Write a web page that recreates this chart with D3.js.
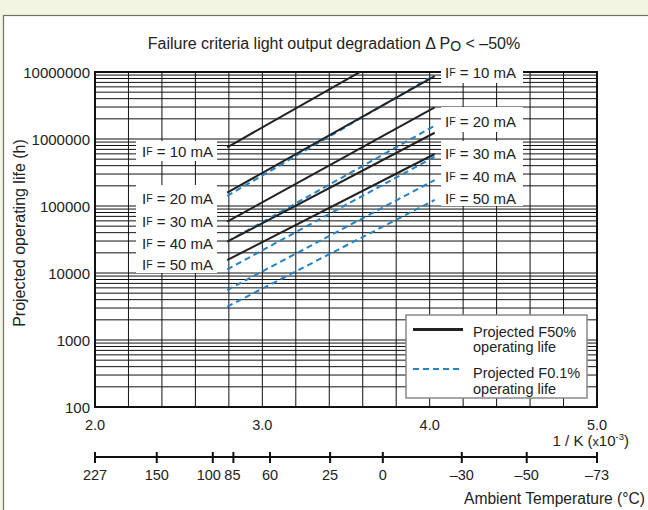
<!DOCTYPE html>
<html><head><meta charset="utf-8">
<script src="https://cdn.jsdelivr.net/npm/d3@7"></script>
<style>
body{margin:0;background:#f1f5e1;}
svg{display:block;font-family:"Liberation Sans",Arial,Helvetica,sans-serif;}
</style>
</head><body><svg id="c" width="648" height="510"></svg>
<script>
// ---- data ----
const currents = ["10", "20", "30", "40", "50"];
const lineX = [2.79, 4.03];                       // 1/K (x10^-3) span of each line
const f50Start = [7.5e5, 1.58e5, 5.83e4, 2.93e4, 1.56e4];
const f50End   = [4.3e7, 8.7e6, 2.97e6, 1.24e6, 5.97e5];
const f01Start = [1.41e5, 2.93e4, 1.13e4, 5.57e3, 3.14e3];
const f01End   = [9.0e6, 1.58e6, 5.45e5, 2.44e5, 1.23e5];
const xTickVals = [2.0, 3.0, 4.0, 5.0];
const yTickVals = [100, 1000, 10000, 100000, 1000000, 10000000];
const tempLabels = ["227", "150", "100", "85", "60", "25", "0", "–30", "–50", "–73"];
const tempPos    = [2.0, 2.369, 2.704, 2.827, 3.046, 3.405, 3.720, 4.192, 4.580, 5.0];
const legendLabels = [["Projected F50%", "operating life"], ["Projected F0.1%", "operating life"]];

// ---- drawing ----
const svg = d3.select("#c");
const W = 648, H = 510;
const L = 95, R = 597, T = 72, B = 407;
const x = d3.scaleLinear().domain([2, 5]).range([L, R]);
const y = d3.scaleLog().domain([100, 1e7]).range([B, T]);
const blue = "#2382c8";
const ink = "#222";

// panel
svg.append("rect").attr("x", 3.5).attr("y", 15.5).attr("width", W).attr("height", H)
  .attr("fill", "#fff").attr("stroke", "#707068").attr("stroke-width", 1.2);

// grid
const g = svg.append("g");
const vgrid = d3.range(1, 15).map(i => 2 + i * 0.2);
g.selectAll("line.v").data(vgrid).join("line")
  .attr("x1", d => x(d)).attr("x2", d => x(d)).attr("y1", T).attr("y2", B)
  .attr("stroke", "#111").attr("stroke-width", 1);
const hgrid = [];
[100, 1000, 10000, 100000, 1000000].forEach(dec => {
  for (let k = 1; k <= 9; k++) hgrid.push(dec * k);
});
g.selectAll("line.h").data(hgrid.filter(v => v > 100)).join("line")
  .attr("x1", L).attr("x2", R).attr("y1", d => y(d)).attr("y2", d => y(d))
  .attr("stroke", "#111").attr("stroke-width", 1);

// frame
svg.append("rect").attr("x", L).attr("y", T).attr("width", R - L).attr("height", B - T)
  .attr("fill", "none").attr("stroke", "#111").attr("stroke-width", 2);

// label backing boxes
const boxes = [[136, 141, 81, 20], [136, 185, 81, 88], [441, 62, 82, 21], [441, 107, 82, 25], [441, 141, 82, 65]];
svg.selectAll("rect.box").data(boxes).join("rect")
  .attr("x", d => d[0]).attr("y", d => d[1]).attr("width", d => d[2]).attr("height", d => d[3])
  .attr("fill", "#fff");

// clip
svg.append("clipPath").attr("id", "clip").append("rect")
  .attr("x", L).attr("y", T).attr("width", R - L).attr("height", B - T);

const line = d3.line().x(d => x(d[0])).y(d => y(d[1]));
const lg = svg.append("g").attr("clip-path", "url(#clip)");
currents.forEach((c, i) => {
  lg.append("path").datum([[lineX[0], f01Start[i]], [lineX[1], f01End[i]]])
    .attr("d", line).attr("fill", "none").attr("stroke", blue).attr("stroke-width", 2)
    .attr("stroke-dasharray", "6,4");
});
currents.forEach((c, i) => {
  lg.append("path").datum([[lineX[0], f50Start[i]], [lineX[1], f50End[i]]])
    .attr("d", line).attr("fill", "none").attr("stroke", ink).attr("stroke-width", 2);
});

// IF labels
function ifLabel(xp, yp, c) {
  const t = svg.append("text").attr("x", xp).attr("y", yp).attr("font-size", 15)
    .attr("fill", ink).attr("dominant-baseline", "central");
  t.append("tspan").text("I");
  t.append("tspan").attr("font-size", 10.5).text("F");
  t.append("tspan").text(" = " + c + " mA");
}
const leftY = [151, 197.5, 220.5, 242.5, 264];
const rightY = [71.5, 121, 152.5, 176, 197.5];
currents.forEach((c, i) => { ifLabel(142, leftY[i], c); ifLabel(445, rightY[i], c); });

// y axis labels
svg.selectAll("text.yt").data(yTickVals).join("text")
  .attr("x", 90).attr("y", d => y(d)).attr("text-anchor", "end").attr("dominant-baseline", "central")
  .attr("font-size", 15).attr("fill", ink).text(d => d);

svg.append("text").attr("transform", "translate(19,233) rotate(-90)")
  .attr("text-anchor", "middle").attr("dominant-baseline", "central")
  .attr("font-size", 16).attr("fill", ink).text("Projected operating life (h)");

// x axis labels
svg.selectAll("text.xt").data(xTickVals).join("text")
  .attr("x", d => x(d)).attr("y", 425).attr("text-anchor", "middle").attr("dominant-baseline", "central")
  .attr("font-size", 14.5).attr("fill", ink).text(d => d.toFixed(1));
const kt = svg.append("text").attr("x", 629).attr("y", 446).attr("text-anchor", "end")
  .attr("font-size", 15).attr("fill", ink);
kt.append("tspan").text("1 / K (");
kt.append("tspan").attr("font-size", 12.5).text("x");
kt.append("tspan").text("10");
kt.append("tspan").attr("font-size", 9.5).attr("dy", -6).text("-3");
kt.append("tspan").attr("dy", 6).text(")");

// temperature axis
const ta = svg.append("g");
ta.append("line").attr("x1", x(2)).attr("x2", x(5)).attr("y1", 457).attr("y2", 457)
  .attr("stroke", "#111").attr("stroke-width", 2);
ta.selectAll("line.t").data(tempPos).join("line")
  .attr("x1", d => x(d)).attr("x2", d => x(d)).attr("y1", 452).attr("y2", 463)
  .attr("stroke", "#111").attr("stroke-width", 2);
ta.selectAll("text").data(tempLabels).join("text")
  .attr("x", (d, i) => x(tempPos[i])).attr("dx", d => d === "100" ? -4 : (d === "85" ? -1 : 0))
  .attr("y", 475).attr("text-anchor", "middle")
  .attr("dominant-baseline", "central").attr("font-size", 14.5).attr("fill", ink).text(d => d);
svg.append("text").attr("x", 645).attr("y", 504).attr("text-anchor", "end")
  .attr("font-size", 15.6).attr("fill", ink).text("Ambient Temperature (°C)");

// title
const tt = svg.append("text").attr("x", 334).attr("y", 48.5).attr("text-anchor", "middle")
  .attr("font-size", 16).attr("fill", ink);
tt.append("tspan").text("Failure criteria light output degradation Δ P");
tt.append("tspan").attr("font-size", 14).attr("dy", 2).text("O");
tt.append("tspan").attr("dy", -2).text(" < –50%");

// legend
const lgd = svg.append("g");
lgd.append("rect").attr("x", 406).attr("y", 315).attr("width", 181).attr("height", 83)
  .attr("fill", "#fff").attr("stroke", "#888").attr("stroke-width", 1.5);
lgd.append("line").attr("x1", 413).attr("x2", 463).attr("y1", 329.5).attr("y2", 329.5)
  .attr("stroke", ink).attr("stroke-width", 3);
lgd.append("line").attr("x1", 413).attr("x2", 463).attr("y1", 369).attr("y2", 369)
  .attr("stroke", blue).attr("stroke-width", 2).attr("stroke-dasharray", "6,4");
const legY = [[332, 347], [373, 388.5]];
legendLabels.forEach((ls, i) => {
  ls.forEach((s, j) => {
    lgd.append("text").attr("x", 473).attr("y", legY[i][j]).attr("dominant-baseline", "central")
      .attr("font-size", 14.5).attr("fill", ink).text(s);
  });
});
</script>
</body></html>
